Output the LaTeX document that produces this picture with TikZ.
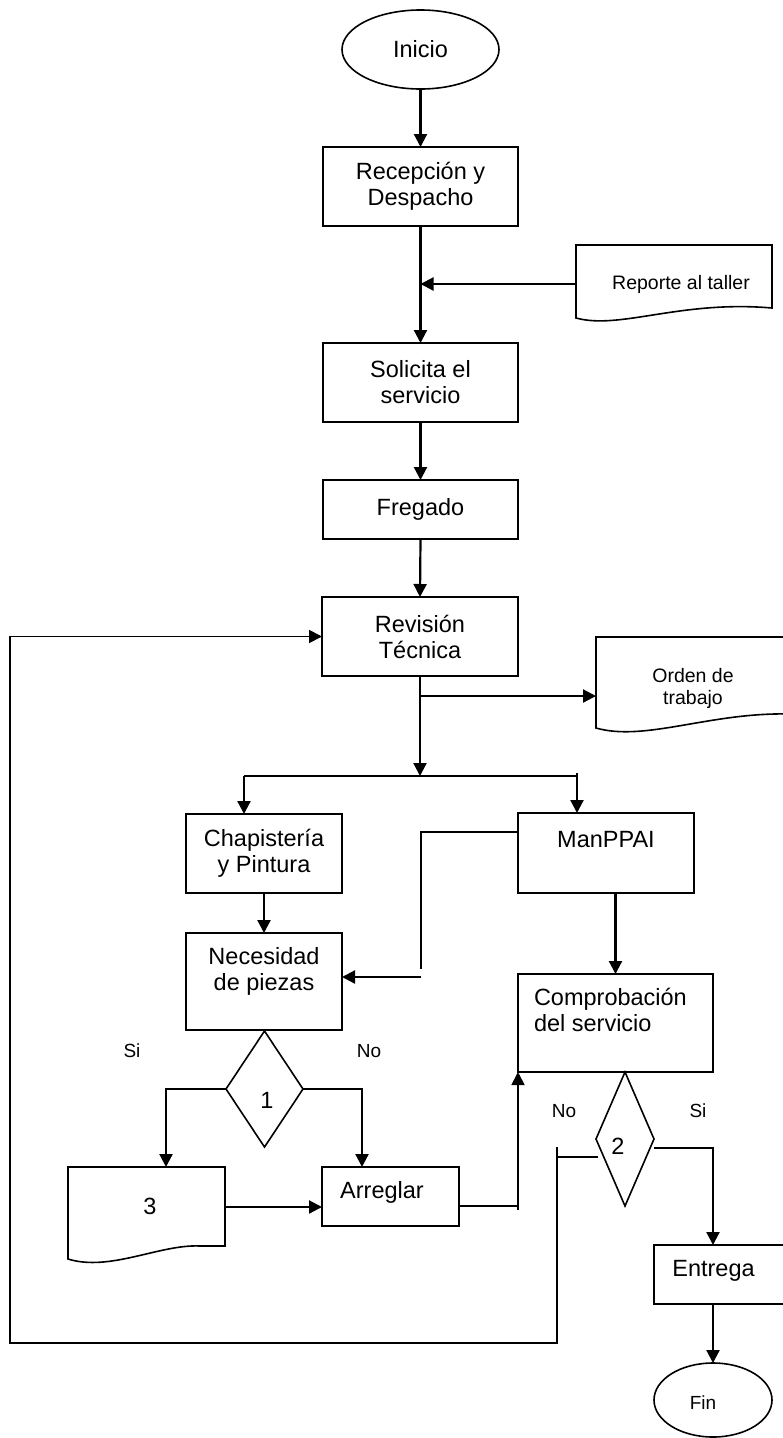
\documentclass[tikz,border=0pt]{standalone}
\usepackage{fontspec}
\setmainfont{Liberation Sans}
\usetikzlibrary{arrows.meta,shapes.geometric,calc}

\begin{document}
\begin{tikzpicture}[x=1pt,y=1pt,
  every node/.style={inner sep=0pt, outer sep=0pt},
  box/.style={draw, rectangle, line width=1.6pt},
  term/.style={draw, ellipse, line width=1.6pt},
  dec/.style={draw, diamond, line width=1.6pt},
  doc/.style={line width=1.6pt},
  txt/.style={font=\fontsize{23.5}{26}\selectfont, align=center},
  small/.style={font=\fontsize{19.5}{22}\selectfont, align=center},
  lbl/.style={font=\fontsize{19}{20}\selectfont},
  flow/.style={line width=2.2pt},
  arr/.style={flow, -{Triangle[length=13pt,width=13pt]}},
  thinl/.style={line width=1.5pt},
  thinarr/.style={line width=1.8pt, -{Triangle[length=13pt,width=13pt]}}
]
\fill[white] (0,0) rectangle (783,-1438);
\useasboundingbox (0,0) rectangle (783,-1438);
\clip (0,0) rectangle (783,-1438);

% main column
\node[term, minimum width=157, minimum height=79, txt] (ini) at (420.5,-49.5) {Inicio};
\node[box, minimum width=195, minimum height=79, txt] (rec) at (420.5,-186.5) {Recepción y\\Despacho};
\node[box, minimum width=195, minimum height=79, txt] (sol) at (420.5,-382.5) {Solicita el\\servicio};
\node[box, minimum width=195, minimum height=59, txt] (freg) at (420.5,-509.5) {Fregado};
\node[box, minimum width=196, minimum height=79, txt] (rev) at (420,-636.5) {Revisión\\Técnica};

% document: Reporte al taller
\draw[doc] (576,-245) -- (772,-245) -- (772,-308)
  .. controls (680,-300) and (620,-330) .. (576,-318) -- cycle;
\node[small] (rep) at (681,-284) {Reporte al taller};
\coordinate (repin) at (576,-284);

% document: Orden de trabajo
\draw[doc] (790,-637) -- (596,-637) -- (596,-728)
  .. controls (645,-742) and (710,-712) .. (790,-714);
\node[small] (ord) at (693,-688) {Orden de\\trabajo};
\coordinate (ordin) at (596,-696);

% branches
\node[box, minimum width=156, minimum height=79, txt] (chap) at (264,-853.5) {Chapistería\\y Pintura};
\node[box, minimum width=156, minimum height=97] (nec) at (264,-981.5) {};
\node[txt] (nect) at (264,-971) {Necesidad\\de piezas};
\node[box, minimum width=176, minimum height=80] (man) at (606,-853) {};
\node[txt] (mant) at (606,-840) {ManPPAI};
\node[box, minimum width=195, minimum height=98] (comp) at (615.5,-1023) {};
\node[txt, align=left, anchor=west] (compt) at (534,-1010) {Comprobación\\del servicio};

% decision 1 and its outcomes
\node[dec, minimum width=77, minimum height=116] (d1) at (264.5,-1089) {};
\node[txt] (d1t) at (267,-1100) {1};
\draw[doc] (68,-1167) -- (225,-1167) -- (225,-1246) -- (200,-1246)
  .. controls (160,-1244) and (110,-1272) .. (68,-1259) -- cycle;
\node[txt] (doc3t) at (150,-1206) {3};
\coordinate (d3top) at (166,-1167);
\coordinate (d3out) at (225,-1207);
\node[box, minimum width=137, minimum height=59] (fix) at (390.5,-1196.5) {};
\node[txt] (fixt) at (382,-1192) {Arreglar};

% decision 2 and delivery
\node[dec, minimum width=58, minimum height=134] (d2) at (625,-1139) {};
\node[txt] (d2t) at (618,-1146) {2};
\node[box, minimum width=132, minimum height=59] (ent) at (720,-1274.5) {};
\node[txt] (entt) at (713.5,-1271) {Entrega};
\node[term, minimum width=118, minimum height=74] (fin) at (713,-1400) {};
\node[lbl] (fint) at (703,-1403) {Fin};

% branch labels
\node[lbl] (si1) at (132,-1051) {Si};
\node[lbl] (no1) at (369,-1051) {No};
\node[lbl] (no2) at (564,-1111) {No};
\node[lbl] (si2) at (698,-1111) {Si};

% connectors along the main column
\draw[arr] (ini.south) -- (rec.north);
\draw[arr] (rec.south) -- (sol.north);
\draw[arr] (repin) -- (repin -| rec.south);
\draw[arr] (sol.south) -- (freg.north);
\draw[arr] (freg.south) -- (rev.north);
\coordinate (split) at (420,-776);
\draw[arr] (rev.south) -- (split);
\draw[arr] (rev.south |- ordin) -- (ordin);

% split into the two lines of work
\coordinate (sL) at (244,-776);
\coordinate (sR) at (577,-776);
\draw[flow] (sL) -- (sR);
\draw[arr] (sL) -- (sL |- chap.north);
\draw[arr] ([yshift=3]sR) -- (sR |- man.north);
\draw[arr] (chap.south) -- (nec.north);
\draw[arr] (comp.north |- man.south) -- (comp.north);

% ManPPAI also feeds the parts check
\coordinate (fb1) at (421,-969);
\coordinate (fb2) at (421,-977);
\draw[thinl] ([yshift=21]man.west) -| (fb1);
\draw[arr] (fb2) -- (fb2 -| nec.east);

% decision 1
\draw[arr] (d1.west) -| (d3top);
\draw[arr] (d1.east) -| ([xshift=-28.5]fix.north);
\draw[arr] (d3out) -- (d3out -| fix.west);
\coordinate (j3) at (518,-1210);
\draw[thinl] ([yshift=-9.5]fix.east) -- ([yshift=-9.5]fix.east -| j3);
\draw[thinarr] (j3) -- (comp.south west);

% decision 2
\draw[arr] ([yshift=-9]d2.east) -| (fin.north |- ent.north);
\draw[arr] (fin.north |- ent.south) -- (fin.north);
\draw[thinl] ([xshift=2,yshift=-18]d2.west) -- ++(-42,0);
\coordinate (n0) at (557,-1147);
\coordinate (n2) at (10,-1343);
\draw[thinarr] (n0) |- (n2) |- (rev.west);
\end{tikzpicture}
\end{document}
